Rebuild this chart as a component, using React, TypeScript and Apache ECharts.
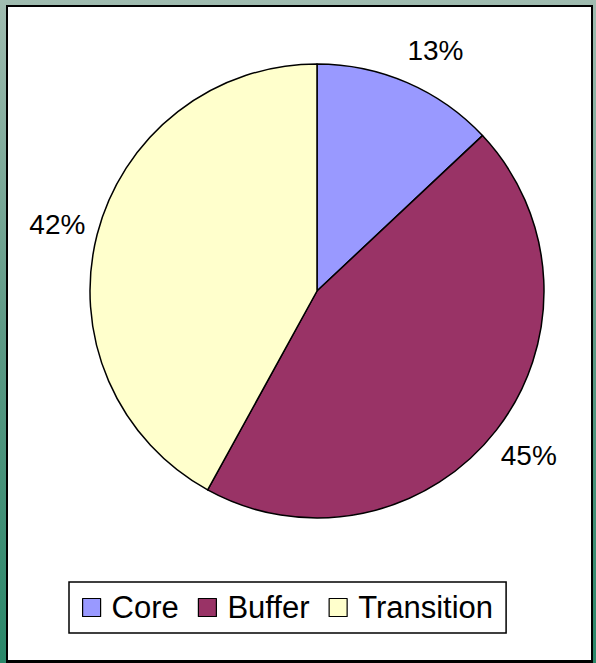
import React, { useEffect, useRef } from "react";
import * as echarts from "echarts";

const categories = ["Core", "Buffer", "Transition"];
const values = [13, 45, 42];
const colors = ["#9999ff", "#993366", "#ffffcc"];

export default function App() {
  const ref = useRef<HTMLDivElement>(null);
  useEffect(() => {
    if (!ref.current) return;
    const chart = echarts.init(ref.current, null, { renderer: "svg" });
    const font = "'Liberation Sans', Arial, sans-serif";
    chart.setOption({
      animation: false,
      backgroundColor: "transparent",
      legend: {
        data: categories,
        orient: "horizontal",
        left: 69,
        top: 582,
        padding: [10, 13, 10, 13],
        borderColor: "#000",
        borderWidth: 1.5,
        itemGap: 19,
        itemWidth: 18,
        itemHeight: 18,
        icon: "rect",
        itemStyle: { borderColor: "#000", borderWidth: 1.2 },
        textStyle: {
          fontFamily: font,
          fontSize: 31,
          color: "#000",
          padding: [0, 0, 0, 6],
        },
      },
      series: [
        {
          type: "pie",
          center: [317, 291],
          radius: [0, 227],
          startAngle: 90,
          clockwise: true,
          avoidLabelOverlap: false,
          itemStyle: { borderColor: "#000", borderWidth: 1.5 },
          label: {
            show: true,
            position: "outside",
            formatter: "{c}%",
            fontFamily: font,
            fontSize: 28,
            color: "#000",
            distanceToLabelLine: -28,
          },
          labelLine: { show: false, length: 41, length2: 0 },
          emphasis: { disabled: true },
          data: categories.map((name, i) => ({
            name,
            value: values[i],
            itemStyle: { color: colors[i] },
            label: i === 0 ? { offset: [12, 5] } : undefined,
          })),
        },
      ],
    });
    return () => chart.dispose();
  }, []);

  return (
    <div
      style={{
        position: "fixed",
        left: 0,
        top: 0,
        width: 596,
        height: 663,
        background: "linear-gradient(to bottom, #a0bcb0 0%, #5e9a86 50%, #2a886a 100%)",
        overflow: "hidden",
      }}
    >
      <div
        style={{
          position: "absolute",
          left: 6,
          top: 5,
          width: 587,
          height: 658,
          border: "2.5px solid #000",
          background: "#fff",
          boxSizing: "border-box",
          borderBottomWidth: 3,
        }}
      />
      <div
        ref={ref}
        style={{ position: "absolute", left: 0, top: 0, width: 596, height: 663 }}
      />
    </div>
  );
}
